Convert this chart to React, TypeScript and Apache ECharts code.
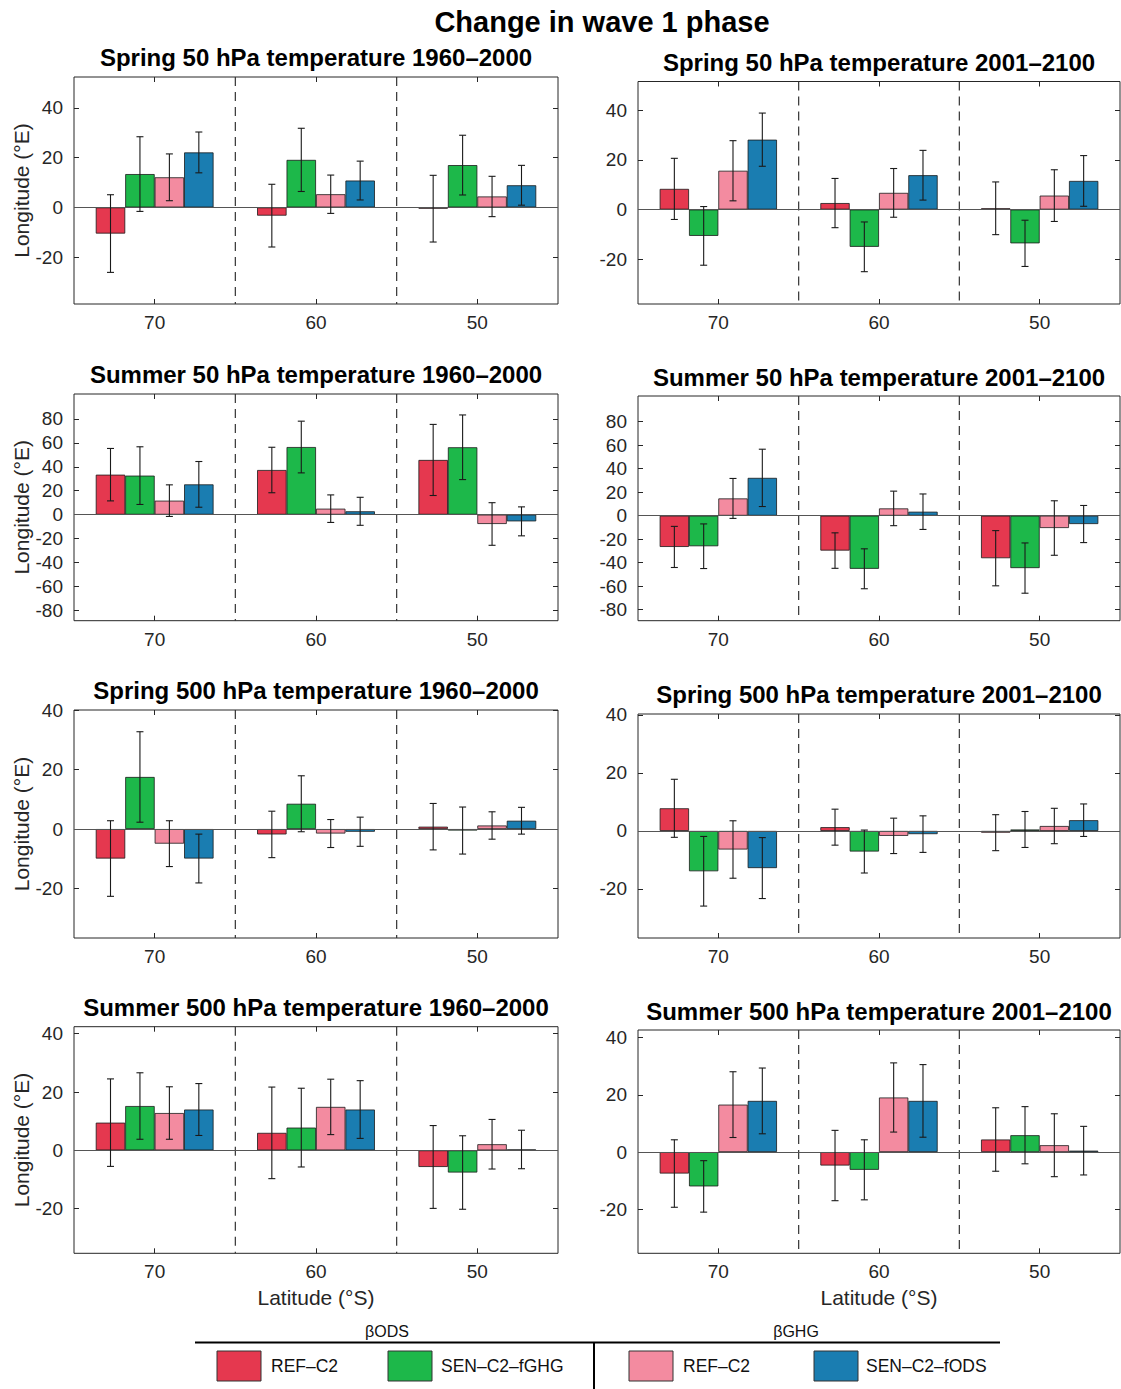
import React, { useEffect, useRef } from "react";
import * as echarts from "echarts";

// ---------- data ----------
const latitudes = ["70", "60", "50"];
const barNames = ["REF–C2 (βODS)", "SEN–C2–fGHG (βODS)", "REF–C2 (βGHG)", "SEN–C2–fODS (βGHG)"];
const barColors = ["#E5384F", "#1DB84A", "#F38BA0", "#1A7DB1"];

const ticksSmall = [-20, 0, 20, 40];
const ticksLarge = [-80, -60, -40, -20, 0, 20, 40, 60, 80];

// each row: one bar series across latitudes 70, 60, 50
const spring50PastValues = [[-10.5, -3.3, -0.5], [13.4, 19.1, 17.0], [12.1, 5.3, 4.4], [22.1, 10.8, 8.9]];
const spring50PastErrors = [[15.6, 12.6, 13.4], [15.0, 12.7, 12.0], [9.4, 7.7, 8.1], [8.2, 7.8, 8.0]];
const spring50FutureValues = [[8.3, 2.6, 0.5], [-10.6, -15.0, -13.6], [15.6, 6.7, 5.6], [28.1, 13.8, 11.5]];
const spring50FutureErrors = [[12.3, 9.9, 10.6], [11.8, 10.0, 9.3], [12.1, 9.8, 10.4], [10.7, 10.0, 10.2]];
const summer50PastValues = [[33.4, 37.3, 45.7], [32.6, 56.5, 56.3], [11.7, 5.0, -7.8], [25.3, 2.8, -5.6]];
const summer50PastErrors = [[21.9, 19.0, 29.7], [24.1, 21.6, 27.0], [13.2, 11.5, 17.8], [19.1, 11.7, 12.1]];
const summer50FutureValues = [[-26.6, -29.7, -36.2], [-26.0, -45.2, -44.6], [14.7, 6.2, -10.5], [32.2, 3.4, -7.1]];
const summer50FutureErrors = [[17.5, 15.1, 23.5], [19.0, 17.0, 21.4], [17.0, 14.7, 23.2], [24.4, 15.1, 15.8]];
const spring500PastValues = [[-9.9, -1.8, 0.8], [17.5, 8.5, -0.5], [-4.9, -1.5, 1.2], [-9.9, -0.9, 2.8]];
const spring500PastErrors = [[12.7, 7.8, 7.8], [15.2, 9.4, 7.9], [7.7, 4.7, 4.6], [8.2, 4.9, 4.5]];
const spring500FutureValues = [[7.8, 1.3, -0.6], [-13.9, -7.1, 0.5], [-6.4, -1.7, 1.7], [-12.8, -1.1, 3.7]];
const spring500FutureErrors = [[10.0, 6.2, 6.2], [12.0, 7.4, 6.2], [9.9, 6.1, 6.1], [10.5, 6.3, 5.6]];
const summer500PastValues = [[9.5, 6.0, -5.7], [15.2, 7.8, -7.6], [12.8, 14.9, 2.1], [14.0, 14.0, 0.3]];
const summer500PastErrors = [[15.0, 15.7, 14.2], [11.4, 13.5, 12.6], [9.0, 9.5, 8.5], [8.9, 9.9, 6.6]];
const summer500FutureValues = [[-7.5, -4.7, 4.4], [-12.0, -6.2, 5.9], [16.6, 19.1, 2.4], [17.9, 17.9, 0.5]];
const summer500FutureErrors = [[11.8, 12.3, 11.1], [9.0, 10.5, 10.0], [11.5, 12.1, 11.0], [11.5, 12.7, 8.5]];

const panelTitles = [
  "Spring 50 hPa temperature 1960–2000",
  "Spring 50 hPa temperature 2001–2100",
  "Summer 50 hPa temperature 1960–2000",
  "Summer 50 hPa temperature 2001–2100",
  "Spring 500 hPa temperature 1960–2000",
  "Spring 500 hPa temperature 2001–2100",
  "Summer 500 hPa temperature 1960–2000",
  "Summer 500 hPa temperature 2001–2100",
];
const panelRanges = [
  [-38.8, 52.4], [-38, 51.5],
  [-88.6, 100.8], [-89.4, 101.9],
  [-36.6, 40], [-36.9, 40.3],
  [-35.3, 42.4], [-35.4, 42.7],
];
const panelTicks = [ticksSmall, ticksSmall, ticksLarge, ticksLarge, ticksSmall, ticksSmall, ticksSmall, ticksSmall];
const panelValues = [spring50PastValues, spring50FutureValues, summer50PastValues, summer50FutureValues,
  spring500PastValues, spring500FutureValues, summer500PastValues, summer500FutureValues];
const panelErrors = [spring50PastErrors, spring50FutureErrors, summer50PastErrors, summer50FutureErrors,
  spring500PastErrors, spring500FutureErrors, summer500PastErrors, summer500FutureErrors];

// ---------- layout ----------
const gridBoxes = [
  { left: 74, top: 77, width: 484, height: 227 },
  { left: 638, top: 81.5, width: 482, height: 222.5 },
  { left: 74, top: 394, width: 484, height: 226.7 },
  { left: 638, top: 396, width: 482, height: 224.7 },
  { left: 74, top: 710, width: 484, height: 228 },
  { left: 638, top: 714, width: 482, height: 224 },
  { left: 74, top: 1026.7, width: 484, height: 226.6 },
  { left: 638, top: 1030, width: 482, height: 223.3 },
];
const titleCenters = [57, 62, 374, 377, 690, 694, 1007, 1011];

const FONT = "'Liberation Sans', Arial, Helvetica, sans-serif";
const AXIS_COLOR = "#262626";
const GAP = 0.27;

function buildOption() {
  const grid: any[] = [];
  const xAxis: any[] = [];
  const yAxis: any[] = [];
  const series: any[] = [];
  const title: any[] = [
    {
      text: "Change in wave 1 phase",
      left: 602,
      top: 7,
      textAlign: "center",
      padding: 0,
      textStyle: { fontSize: 29, fontWeight: "bold", color: "#000", fontFamily: FONT, lineHeight: 29 },
    },
  ];

  gridBoxes.forEach((box, i) => {
    const isLeft = i % 2 === 0;
    const isBottom = i >= 6;
    const [mn, mx] = panelRanges[i];
    const ticks = panelTicks[i];
    grid.push({
      ...box,
      show: true,
      borderColor: AXIS_COLOR,
      borderWidth: 1,
      backgroundColor: "transparent",
      containLabel: false,
      outerBoundsMode: "none",
    });
    title.push({
      text: panelTitles[i],
      left: box.left + box.width / 2,
      top: titleCenters[i] - 12,
      textAlign: "center",
      padding: 0,
      textStyle: { fontSize: 24, fontWeight: "bold", color: "#000", fontFamily: FONT, lineHeight: 24 },
    });
    xAxis.push({
      type: "category",
      gridIndex: i,
      data: latitudes,
      position: "bottom",
      axisLine: { show: false, onZero: false },
      axisTick: { show: true, inside: true, alignWithLabel: true, length: 5, lineStyle: { color: AXIS_COLOR } },
      axisLabel: { fontSize: 19, color: AXIS_COLOR, margin: 9, fontFamily: FONT },
      splitLine: { show: false },
      name: isBottom ? "Latitude (°S)" : "",
      nameLocation: "middle",
      nameGap: 34,
      nameTextStyle: { fontSize: 21, color: AXIS_COLOR, fontFamily: FONT },
    });
    xAxis.push({
      type: "category",
      gridIndex: i,
      data: latitudes,
      position: "top",
      axisLine: { show: false, onZero: false },
      axisTick: { show: true, inside: true, alignWithLabel: true, length: 5, lineStyle: { color: AXIS_COLOR } },
      axisLabel: { show: false },
      splitLine: { show: false },
    });
    yAxis.push({
      type: "value",
      gridIndex: i,
      min: mn,
      max: mx,
      position: "left",
      axisLine: { show: false },
      axisTick: { show: true, inside: true, length: 5, customValues: ticks, lineStyle: { color: AXIS_COLOR } },
      axisLabel: { fontSize: 19, color: AXIS_COLOR, margin: 11, customValues: ticks, fontFamily: FONT },
      splitLine: { show: false },
      name: isLeft ? "Longitude (°E)" : "",
      nameLocation: "middle",
      nameRotate: 90,
      nameGap: 42,
      nameTextStyle: { fontSize: 21, color: AXIS_COLOR, fontFamily: FONT },
    });
    yAxis.push({
      type: "value",
      gridIndex: i,
      min: mn,
      max: mx,
      position: "right",
      axisLine: { show: false },
      axisTick: { show: true, inside: true, length: 5, customValues: ticks, lineStyle: { color: AXIS_COLOR } },
      axisLabel: { show: false },
      splitLine: { show: false },
    });

    const vals = panelValues[i];
    const errs = panelErrors[i];
    vals.forEach((row, s) => {
      series.push({
        type: "bar",
        name: barNames[s],
        xAxisIndex: 2 * i,
        yAxisIndex: 2 * i,
        data: row,
        barGap: "0%",
        barCategoryGap: GAP * 100 + "%",
        itemStyle: { color: barColors[s], borderColor: "#1a1a1a", borderWidth: 0.8 },
        markLine:
          s === 0
            ? {
                silent: true,
                symbol: ["none", "none"],
                label: { show: false },
                lineStyle: { color: "#555", width: 1, type: "solid" },
                data: [{ yAxis: 0 }],
              }
            : undefined,
      });
    });

    const errData: number[][] = [];
    vals.forEach((row, s) => row.forEach((v, c) => errData.push([c, s, v, errs[s][c]])));
    series.push({
      type: "custom",
      name: "errors",
      xAxisIndex: 2 * i,
      yAxisIndex: 2 * i,
      data: errData,
      encode: { x: 0, y: 2 },
      z: 5,
      renderItem: (params: any, api: any) => {
        const c = api.value(0);
        const s = api.value(1);
        const v = api.value(2);
        const e = api.value(3);
        const band = api.size([1, 0])[0];
        const bw = (band * (1 - GAP)) / 4;
        const cx = api.coord([c, v])[0] + (s - 1.5) * bw;
        const yt = api.coord([c, v + e])[1];
        const yb = api.coord([c, v - e])[1];
        const cap = 3.5;
        const st = { stroke: "#1a1a1a", lineWidth: 1.1 };
        return {
          type: "group",
          children: [
            { type: "line", shape: { x1: cx, y1: yt, x2: cx, y2: yb }, style: st },
            { type: "line", shape: { x1: cx - cap, y1: yt, x2: cx + cap, y2: yt }, style: st },
            { type: "line", shape: { x1: cx - cap, y1: yb, x2: cx + cap, y2: yb }, style: st },
          ],
        };
      },
    });

    series.push({
      type: "custom",
      name: "dividers",
      xAxisIndex: 2 * i,
      yAxisIndex: 2 * i,
      data: [[0, 0], [1, 0]],
      encode: { x: 0, y: 1 },
      z: 1,
      renderItem: (params: any, api: any) => {
        const band = api.size([1, 0])[0];
        const x = api.coord([api.value(0), 0])[0] + band / 2;
        const cs = params.coordSys;
        return {
          type: "line",
          shape: { x1: x, y1: cs.y, x2: x, y2: cs.y + cs.height },
          style: { stroke: "#333", lineWidth: 1.2, lineDash: [9, 6] },
        };
      },
    });
  });

  const legendFont = { fontSize: 17.5, fontFamily: FONT, fill: "#111" };
  const legendItems = [
    { x: 217, tx: 271, label: "REF–C2", color: barColors[0] },
    { x: 388, tx: 441, label: "SEN–C2–fGHG", color: barColors[1] },
    { x: 629, tx: 683, label: "REF–C2", color: barColors[2] },
    { x: 814, tx: 866, label: "SEN–C2–fODS", color: barColors[3] },
  ];
  const graphic: any[] = [
    { type: "line", shape: { x1: 195, y1: 1342.5, x2: 1000, y2: 1342.5 }, style: { stroke: "#000", lineWidth: 2 } },
    { type: "line", shape: { x1: 594, y1: 1342, x2: 594, y2: 1389 }, style: { stroke: "#000", lineWidth: 2 } },
    { type: "text", x: 387, y: 1331, style: { text: "βODS", align: "center", verticalAlign: "middle", fontSize: 16, fontFamily: FONT, fill: "#111" } },
    { type: "text", x: 796, y: 1331, style: { text: "βGHG", align: "center", verticalAlign: "middle", fontSize: 16, fontFamily: FONT, fill: "#111" } },
  ];
  legendItems.forEach((it) => {
    graphic.push({
      type: "rect",
      shape: { x: it.x, y: 1351, width: 44, height: 30 },
      style: { fill: it.color, stroke: "#333", lineWidth: 1 },
    });
    graphic.push({
      type: "text",
      x: it.tx,
      y: 1366,
      style: { text: it.label, align: "left", verticalAlign: "middle", ...legendFont },
    });
  });

  return {
    animation: false,
    backgroundColor: "#fff",
    textStyle: { fontFamily: FONT },
    title,
    grid,
    xAxis,
    yAxis,
    series,
    graphic,
  };
}

export default function App() {
  const ref = useRef<HTMLDivElement>(null);
  useEffect(() => {
    if (!ref.current) return;
    const chart = echarts.init(ref.current, undefined, { renderer: "svg" });
    chart.setOption(buildOption() as any);
    return () => chart.dispose();
  }, []);
  return (
    <div
      ref={ref}
      style={{ position: "absolute", left: 0, top: 0, width: 1121, height: 1389, background: "#fff" }}
    />
  );
}
